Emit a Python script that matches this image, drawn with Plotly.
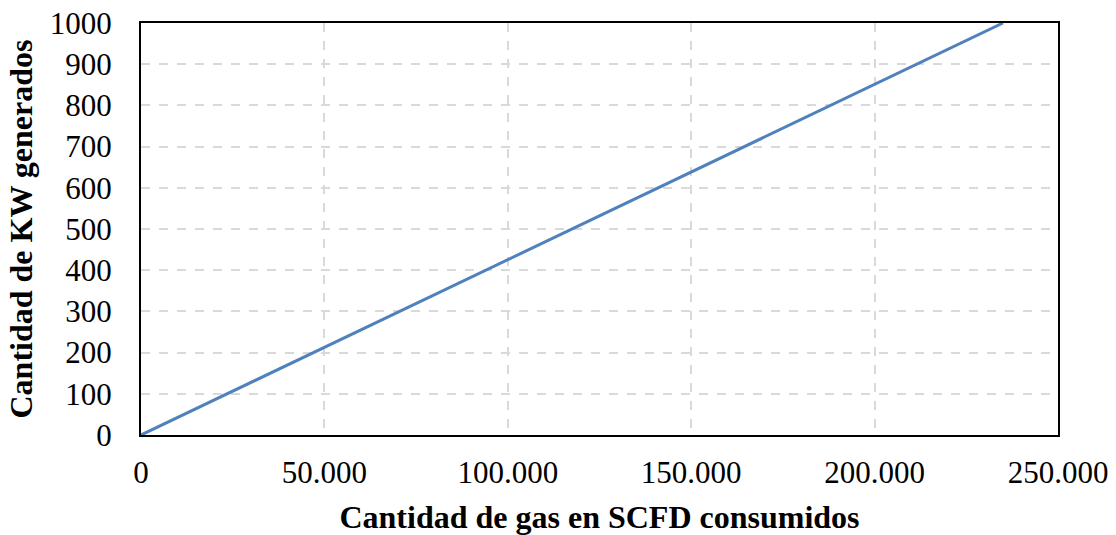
import plotly.graph_objects as go

gas_scfd = [0, 50000, 100000, 150000, 200000, 235000]
kw_generados = [0, 213, 426, 638, 851, 1000]

x_ticks = [0, 50000, 100000, 150000, 200000, 250000]
y_ticks = list(range(0, 1001, 100))

fig = go.Figure()
fig.add_trace(go.Scatter(x=gas_scfd, y=kw_generados, mode="lines",
                         line=dict(color="#4F81BD", width=3), showlegend=False,
                         cliponaxis=False))

font = "Liberation Serif, Times New Roman, serif"
fig.update_layout(
    width=1116, height=535,
    margin=dict(l=141, r=58, t=23, b=100, autoexpand=False),
    paper_bgcolor="white", plot_bgcolor="white",
    separators=",.",
    font=dict(family=font, color="black", size=31),
)
fig.update_xaxes(
    range=[0, 250000], tickvals=x_ticks, tickformat=",d", automargin=False,
    showline=True, linecolor="black", linewidth=2, mirror=True,
    showgrid=True, gridcolor="#D9D9D9", griddash="dash", gridwidth=1.5,
    zeroline=False, ticks="outside", ticklen=9, tickcolor="rgba(0,0,0,0)",
    tickfont=dict(family=font, size=31),
    title=dict(text="<b>Cantidad de gas en SCFD consumidos</b>",
               font=dict(family=font, size=32), standoff=20),
)
fig.update_yaxes(
    range=[0, 1000], tickvals=y_ticks, automargin=False,
    showline=True, linecolor="black", linewidth=2, mirror=True,
    showgrid=True, gridcolor="#D9D9D9", griddash="dash", gridwidth=1.5,
    zeroline=False, ticks="outside", ticklen=21, tickcolor="rgba(0,0,0,0)",
    tickfont=dict(family=font, size=31),
    title=dict(text="<b>Cantidad de KW generados</b>",
               font=dict(family=font, size=32), standoff=8),
)
fig.write_html("out.html", config={"displayModeBar": False},
               post_script="document.body.style.margin='0';")
